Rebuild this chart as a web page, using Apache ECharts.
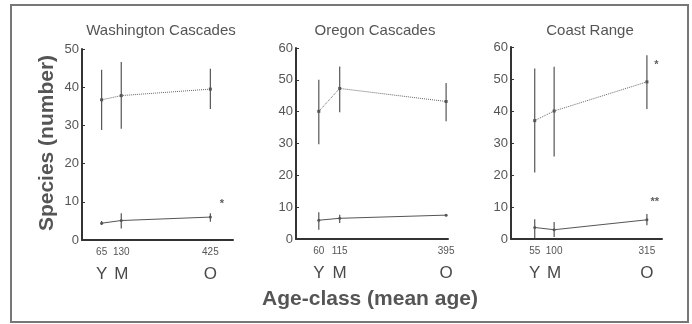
<!DOCTYPE html>
<html>
<head>
<meta charset="utf-8">
<script src="https://cdn.jsdelivr.net/npm/echarts@6/dist/echarts.min.js"></script>
<style>
  html, body { margin: 0; padding: 0; background: #fff; }
  #chart { width: 692px; height: 324px; }
</style>
</head>
<body>
<div id="chart"></div>
<script>
// panel titles and age classes
const panelTitles = ['Washington Cascades', 'Oregon Cascades', 'Coast Range']
const ageClasses = ['Y', 'M', 'O']

// mean stand age of each class, per panel
const waAges = [65, 130, 425]
const orAges = [60, 115, 395]
const crAges = [55, 100, 315]

// upper (dotted) series: mean and error bar ends
const waUpper = [36.7, 37.8, 39.5]
const waUpperLow = [28.8, 29.1, 34.3]
const waUpperHigh = [44.6, 46.6, 44.8]
const orUpper = [40.1, 47.3, 43.2]
const orUpperLow = [29.8, 39.8, 37.0]
const orUpperHigh = [50.0, 54.2, 49.0]
const crUpper = [37.0, 40.0, 49.1]
const crUpperLow = [20.8, 25.8, 40.6]
const crUpperHigh = [53.3, 53.8, 57.4]

// lower (solid) series
const waLower = [4.4, 5.1, 6.0]
const waLowerLow = [3.9, 3.0, 4.8]
const waLowerHigh = [5.0, 7.0, 7.0]
const orLower = [5.9, 6.5, 7.5]
const orLowerLow = [2.9, 5.0, 7.2]
const orLowerHigh = [8.4, 7.6, 7.8]
const crLower = [3.6, 2.9, 6.0]
const crLowerLow = [0.3, 0.6, 4.3]
const crLowerHigh = [6.2, 5.3, 7.8]

// axis ranges
const xMax = [500, 400, 350]
const yMax = [50, 60, 60]

// significance marks [age, value, text]
const waMarks = [[463, 9.5, '*']]
const orMarks = []
const crMarks = [[337, 54.3, '*'], [333, 11.5, '**']]

const panels = [
  { ages: waAges, up: waUpper, upLo: waUpperLow, upHi: waUpperHigh, lo: waLower, loLo: waLowerLow, loHi: waLowerHigh, marks: waMarks },
  { ages: orAges, up: orUpper, upLo: orUpperLow, upHi: orUpperHigh, lo: orLower, loLo: orLowerLow, loHi: orLowerHigh, marks: orMarks },
  { ages: crAges, up: crUpper, upLo: crUpperLow, upHi: crUpperHigh, lo: crLower, loLo: crLowerLow, loHi: crLowerHigh, marks: crMarks }
]

const ink = '#4a4a4a'
const font = "'Liberation Sans', Arial, sans-serif"

// grid boxes in pixels
const grids = [
  { left: 82, top: 49, width: 151, height: 191 },
  { left: 296, top: 48, width: 152, height: 191 },
  { left: 511, top: 47, width: 151, height: 192 }
]

const xAxes = []
const yAxes = []
const series = []

panels.forEach((p, i) => {
  xAxes.push({
    type: 'value',
    gridIndex: i,
    min: 0,
    max: xMax[i],
    splitLine: { show: false },
    axisTick: { show: false },
    axisLine: { lineStyle: { color: '#333', width: 2 } },
    axisLabel: {
      customValues: p.ages,
      margin: 5,
      formatter: (v) => {
        const k = p.ages.indexOf(v)
        return '{n|' + v + '}\n{c|' + ageClasses[k] + '}'
      },
      rich: {
        n: { fontSize: 10, color: '#555', lineHeight: 14, fontFamily: font },
        c: { fontSize: 17, color: ink, lineHeight: 30, fontFamily: font }
      }
    }
  })
  yAxes.push({
    type: 'value',
    gridIndex: i,
    min: 0,
    max: yMax[i],
    interval: 10,
    splitLine: { show: false },
    axisLine: { show: true, lineStyle: { color: '#333', width: 2 } },
    axisTick: { show: true, inside: true, length: 3, lineStyle: { color: '#333' } },
    axisLabel: { color: '#555', fontSize: 13, margin: 3, fontFamily: font }
  })

  const errData = (lo, hi) => p.ages.map((a, k) => [a, lo[k], hi[k]])
  const errSeries = (data) => ({
    type: 'custom',
    xAxisIndex: i,
    yAxisIndex: i,
    silent: true,
    data: data,
    renderItem: (params, api) => {
      const a = api.coord([api.value(0), api.value(1)])
      const b = api.coord([api.value(0), api.value(2)])
      return {
        type: 'line',
        shape: { x1: a[0], y1: a[1], x2: b[0], y2: b[1] },
        style: { stroke: '#555', lineWidth: 1.2 }
      }
    }
  })

  series.push(errSeries(errData(p.upLo, p.upHi)))
  series.push(errSeries(errData(p.loLo, p.loHi)))
  series.push({
    type: 'line',
    xAxisIndex: i,
    yAxisIndex: i,
    data: p.ages.map((a, k) => [a, p.up[k]]),
    symbol: 'rect',
    symbolSize: 3,
    itemStyle: { color: '#555' },
    lineStyle: { color: '#666', width: 1, type: 'dotted' },
    animation: false
  })
  series.push({
    type: 'line',
    xAxisIndex: i,
    yAxisIndex: i,
    data: p.ages.map((a, k) => [a, p.lo[k]]),
    symbol: 'circle',
    symbolSize: 3,
    itemStyle: { color: '#555' },
    lineStyle: { color: '#555', width: 1 },
    animation: false
  })
  series.push({
    type: 'scatter',
    xAxisIndex: i,
    yAxisIndex: i,
    symbolSize: 0,
    data: p.marks,
    label: {
      show: true,
      position: 'inside',
      formatter: (d) => d.value[2],
      color: '#333',
      fontSize: 11,
      fontWeight: 'bold',
      fontFamily: font
    }
  })
})

const chart = echarts.init(document.getElementById('chart'))
chart.setOption({
  backgroundColor: '#fff',
  animation: false,
  title: panelTitles.map((t, i) => ({
    text: t,
    left: [156, 370, 585][i],
    top: 18,
    textAlign: 'center',
    textStyle: { fontSize: 15, fontWeight: 'normal', color: '#555', fontFamily: font }
  })),
  grid: grids,
  xAxis: xAxes,
  yAxis: yAxes,
  series: series,
  graphic: [
    {
      type: 'rect',
      shape: { x: 11, y: 5, width: 677, height: 317 },
      style: { fill: 'none', stroke: '#777', lineWidth: 2 }
    },
    {
      type: 'text',
      x: 47,
      y: 143,
      rotation: Math.PI / 2,
      style: {
        text: 'Species (number)',
        fontSize: 21,
        fontWeight: 'bold',
        fontFamily: font,
        fill: '#555',
        align: 'center',
        verticalAlign: 'middle'
      }
    },
    {
      type: 'text',
      x: 370,
      y: 299,
      style: {
        text: 'Age-class (mean age)',
        fontSize: 21,
        fontWeight: 'bold',
        fontFamily: font,
        fill: '#555',
        align: 'center',
        verticalAlign: 'middle'
      }
    }
  ]
})
</script>
</body>
</html>
